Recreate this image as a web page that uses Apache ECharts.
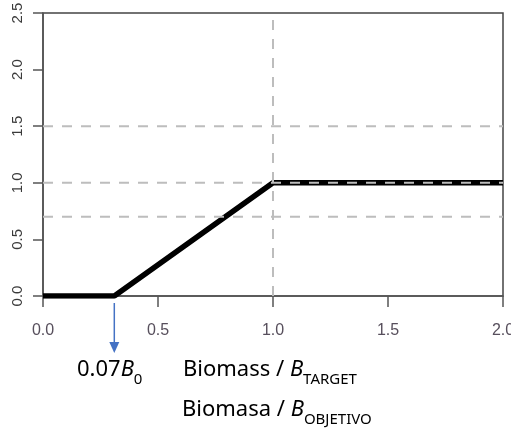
<!DOCTYPE html>
<html>
<head>
<meta charset="utf-8">
<script src="https://cdn.jsdelivr.net/npm/echarts@6/dist/echarts.min.js"></script>
<style>
  html, body { margin: 0; padding: 0; background: #fff; }
  #main { width: 511px; height: 433px; }
</style>
</head>
<body>
<div id="main"></div>
<script>
// harvest control rule: 0 up to 0.07B0, then linear up to target, then flat
var hcrX = [0, 0.31, 1.0, 2.0];
var hcrY = [0, 0, 1.0, 1.0];
// grey dashed reference lines
var hGuides = [0.7, 1.0, 1.5];
var vGuides = [1.0];
var xTicks = [0, 0.5, 1.0, 1.5, 2.0];
var yTicks = [0, 0.5, 1.0, 1.5, 2.0, 2.5];
var limitRefX = 0.31; // position of the 0.07B0 arrow

var myChart = echarts.init(document.getElementById('main'));

var guideStyle = { color: '#bdbdbd', width: 2, type: [10, 9] };
var series = [];
hGuides.forEach(function (v) {
    series.push({
        type: 'line', silent: true, symbol: 'none', z: 5,
        lineStyle: guideStyle,
        data: [[xTicks[0], v], [xTicks[xTicks.length - 1], v]]
    });
});
vGuides.forEach(function (v) {
    series.push({
        type: 'line', silent: true, symbol: 'none', z: 5,
        lineStyle: guideStyle,
        data: [[v, yTicks[0]], [v, yTicks[yTicks.length - 1]]]
    });
});
series.push({
    type: 'line', silent: true, symbol: 'none', z: 3,
    lineStyle: { color: '#000', width: 5.5 },
    data: hcrX.map(function (x, i) { return [x, hcrY[i]]; })
});

option = {
    animation: false,
    grid: {
        left: 43, right: 8, top: 13, bottom: 137,
        containLabel: false, outerBoundsMode: 'none',
        show: true, borderColor: '#444', borderWidth: 1.5
    },
    xAxis: {
        type: 'value', min: 0, max: 2, interval: 0.5,
        splitLine: { show: false },
        axisLine: { lineStyle: { color: '#555', width: 1.5 } },
        axisTick: { length: 11, lineStyle: { color: '#555', width: 1.5 } },
        axisLabel: {
            margin: 27, fontSize: 16, color: '#574f5c',
            fontFamily: 'Liberation Sans, sans-serif',
            formatter: function (v) { return v.toFixed(1); }
        }
    },
    yAxis: {
        type: 'value', min: 0, max: 2.5, interval: 0.5,
        splitLine: { show: false },
        axisLine: { lineStyle: { color: '#555', width: 1.5 } },
        axisTick: { length: 10, lineStyle: { color: '#555', width: 1.5 } },
        axisLabel: {
            rotate: 90, margin: 18, fontSize: 15, color: '#3a3a3a',
            fontFamily: 'Liberation Sans, sans-serif',
            formatter: function (v) { return v.toFixed(1); }
        }
    },
    series: series
};
myChart.setOption(option);

var ax = myChart.convertToPixel({ xAxisIndex: 0 }, limitRefX);
var textFont = 'Noto Sans, Liberation Sans, sans-serif';
var rich = {
    n: { fontSize: 22, fontFamily: textFont, color: '#111' },
    i: { fontSize: 22, fontFamily: textFont, fontStyle: 'italic', color: '#111' },
    s: { fontSize: 15, fontFamily: textFont, color: '#111', verticalAlign: 'bottom', padding: [0, 0, -6, 0] }
};
myChart.setOption({
    graphic: [
        { type: 'line', shape: { x1: ax, y1: 303, x2: ax, y2: 344 },
          style: { stroke: '#4472c4', lineWidth: 1.5 } },
        { type: 'polygon', shape: { points: [[ax - 5, 342], [ax + 5, 342], [ax, 353]] },
          style: { fill: '#4472c4' } },
        { type: 'text', left: 77, top: 359,
          style: { text: '{n|0.07}{i|B}{s|0}', rich: rich } },
        { type: 'text', left: 183, top: 359,
          style: { text: '{n|Biomass / }{i|B}{s|TARGET}', rich: rich } },
        { type: 'text', left: 182, top: 399,
          style: { text: '{n|Biomasa / }{i|B}{s|OBJETIVO}', rich: rich } }
    ]
});
</script>
</body>
</html>
